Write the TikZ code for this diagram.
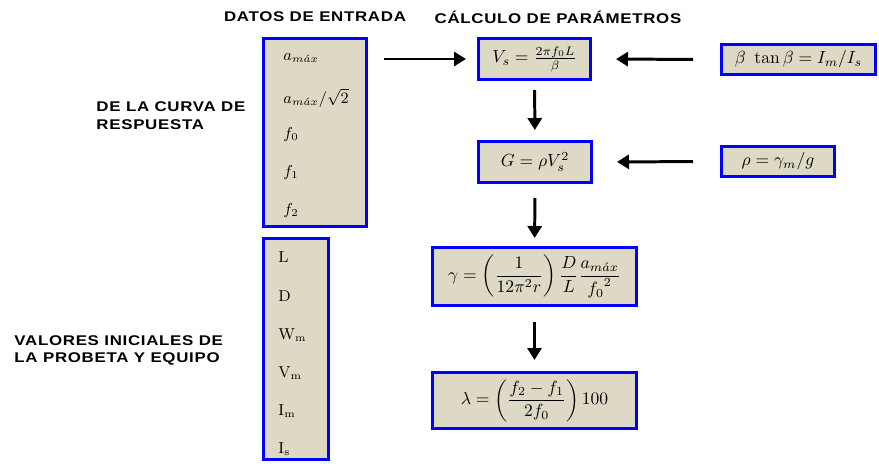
\documentclass[tikz,border=0pt]{standalone}
\usepackage{amsmath, amssymb}
\usepackage{fontspec}
\usepackage{tikz}
\usetikzlibrary{positioning, arrows.meta}
\newfontfamily\headfont[FakeStretch=1.2,LetterSpace=5]{Liberation Sans}
\definecolor{boxfill}{RGB}{221,217,196}

\begin{document}
\begin{tikzpicture}[
    >={Triangle[length=0.24cm,width=0.28cm]},
    line width=1.7pt,
    font=\fontsize{10}{12}\selectfont,
    eqbox/.style={
        draw=blue,
        fill=boxfill,
        line width=1.7pt,
        inner sep=2pt
    },
    headtext/.style={
        font=\headfont\bfseries\fontsize{8}{10}\selectfont,
        align=left,
        inner sep=0pt
    },
    itemtext/.style={
        anchor=west,
        inner sep=0pt,
        font=\fontsize{9}{11}\selectfont
    }
]
    \useasboundingbox (0,0) rectangle (17.58,-9.26);

    \node[headtext] (hdatos) at (6.30, -0.34) {DATOS DE ENTRADA};
    \node[headtext] (hcalc) at (11.16, -0.34) {CÁLCULO DE PARÁMETROS};
    \node[headtext, anchor=west] (hcurva) at (1.90, -2.31) {DE LA CURVA DE\\RESPUESTA};
    \node[headtext, anchor=west] (hprobeta) at (0.26, -7.01) {VALORES INICIALES DE\\LA PROBETA  Y EQUIPO};

    % input data boxes
    \node[eqbox, minimum width=2.06cm, minimum height=3.76cm] (curva) at (6.30, -2.65) {};
    \node[itemtext] (amax) at (5.64, -1.16) {$a_{m\acute{a}x}$};
    \node[itemtext] (arms) at (5.64, -1.96) {$a_{m\acute{a}x}/\sqrt{2}$};
    \node[itemtext] (fcero) at (5.64, -2.70) {$f_0$};
    \node[itemtext] (funo) at (5.64, -3.46) {$f_1$};
    \node[itemtext] (fdos) at (5.64, -4.22) {$f_2$};

    \node[eqbox, minimum width=1.30cm, minimum height=4.42cm] (probeta) at (5.92, -6.98) {};
    \node[itemtext] (plong) at (5.54, -5.14) {L};
    \node[itemtext] (pdiam) at (5.54, -5.92) {D};
    \node[itemtext] (ppeso) at (5.54, -6.70) {W$_\mathrm{m}$};
    \node[itemtext] (pvol) at (5.54, -7.46) {V$_\mathrm{m}$};
    \node[itemtext] (pinm) at (5.54, -8.22) {I$_\mathrm{m}$};
    \node[itemtext] (pins) at (5.54, -8.98) {I$_\mathrm{s}$};

    % parameter boxes
    \node[eqbox, minimum width=2.24cm, minimum height=0.82cm] (vs) at (10.69, -1.18) {$V_s=\frac{2\pi f_0 L}{\beta}$};
    \node[eqbox, minimum width=2.26cm, minimum height=0.82cm] (gmod) at (10.70, -3.24) {$G=\rho V_s^{2}$};
    \node[eqbox, minimum width=4.08cm, minimum height=1.16cm] (gamma) at (10.69, -5.53) {$\displaystyle \gamma=\left(\frac{1}{12\pi^2 r}\right)\frac{D}{L}\frac{a_{m\acute{a}x}}{{f_0}^2}$};
    \node[eqbox, minimum width=4.08cm, minimum height=1.12cm] (lambda) at (10.69, -8.01) {$\displaystyle \lambda=\left(\frac{f_2-f_1}{2f_0}\right)100$};
    \node[eqbox, minimum width=3.08cm, minimum height=0.60cm] (beta) at (15.97, -1.19) {$\beta\ \tan\beta=I_m/I_s$};
    \node[eqbox, minimum width=2.26cm, minimum height=0.60cm] (rho) at (15.56, -3.23) {$\rho=\gamma_m/g$};

    \draw[->, shorten <=0.32cm, shorten >=0.22cm] (curva.east |- vs.west) -- (vs.west);
    \draw[->, shorten <=0.54cm, shorten >=0.48cm] (beta.west) -- (vs.east);
    \draw[->, shorten <=0.54cm, shorten >=0.48cm] (rho.west) -- (gmod.east);
    \draw[->, shorten <=0.18cm, shorten >=0.20cm] (vs) -- (gmod);
    \draw[->, shorten <=0.28cm, shorten >=0.16cm] (gmod) -- (gamma);
    \draw[->, shorten <=0.30cm, shorten >=0.22cm] (gamma) -- (lambda);
\end{tikzpicture}
\end{document}
